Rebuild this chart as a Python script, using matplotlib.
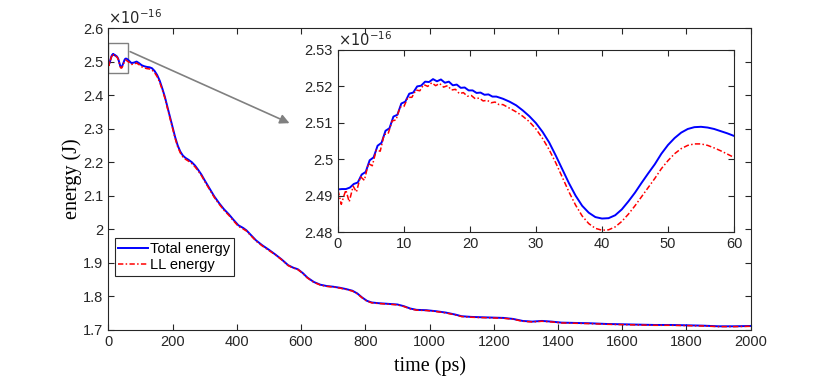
import matplotlib
matplotlib.use('Agg')
import matplotlib.pyplot as plt
from matplotlib.patches import Rectangle
from matplotlib.ticker import FuncFormatter

# inset data, energies in units of 1e-16 J
t_zoom = [0, 0.6, 1.2, 1.8, 2.4, 3.0, 3.6, 4.2, 4.8, 5.4, 6.0, 6.6, 7.2, 7.8, 8.4, 9.0,
          9.6, 10.2, 10.8, 11.4, 12.0, 12.6, 13.2, 13.8, 14.4, 15.0, 15.6, 16.2, 16.8,
          17.4, 18.0, 18.6, 19.2, 19.8, 20.4, 21.0, 21.6, 22.2, 22.8, 23.4, 24.0, 25, 26,
          27, 28, 29, 30, 31, 32, 33, 34, 35, 36, 37, 38, 39, 40, 41, 42, 43, 44, 45, 46,
          47, 48, 49, 50, 51, 52, 53, 54, 55, 56, 57, 58, 59, 60]
total_zoom = [2.4917, 2.4918, 2.4918, 2.4922, 2.4932, 2.4936, 2.4958, 2.4965, 2.4997,
              2.5005, 2.5037, 2.5045, 2.5078, 2.5085, 2.5117, 2.5122, 2.5153, 2.5158,
              2.5180, 2.5183, 2.5200, 2.5202, 2.5213, 2.5212, 2.5220, 2.5214, 2.5219,
              2.5210, 2.5213, 2.5203, 2.5205, 2.5196, 2.5197, 2.5189, 2.5189, 2.5182,
              2.5183, 2.5177, 2.5178, 2.5172, 2.5172, 2.5166, 2.5158, 2.5148, 2.5134,
              2.5118, 2.5099, 2.5075, 2.5046, 2.5010, 2.4972, 2.4934, 2.4900, 2.4872,
              2.4853, 2.4841, 2.4837, 2.4838, 2.4846, 2.4862, 2.4884, 2.4908, 2.4935,
              2.4961, 2.4986, 2.5015, 2.5039, 2.5058, 2.5073, 2.5083, 2.5088, 2.5089,
              2.5087, 2.5083, 2.5077, 2.5071, 2.5064]

t_zoom_ll = [0, 0.5, 1.0, 1.2, 1.7, 2.3, 2.8, 3.4, 4.0, 4.6, 5.2, 5.8, 6.4, 7.0, 7.6, 8.2,
             8.8, 9.4, 10.0, 10.6, 11.2, 11.8, 12.4, 13.0, 13.6, 14.2, 14.8, 15.4, 16.0,
             16.6, 17.2, 17.8, 18.4, 19.0, 19.6, 20.2, 20.8, 21.4, 22.0, 22.6, 23.2, 23.8,
             24.4, 25, 26, 27, 28, 29, 30, 31, 32, 33, 34, 35, 36, 37, 38, 39, 40, 41, 42,
             43, 44, 45, 46, 47, 48, 49, 50, 51, 52, 53, 54, 55, 56, 57, 58, 59, 60]
ll_zoom = [2.4915, 2.4876, 2.4905, 2.4915, 2.4883, 2.4926, 2.4910, 2.4952, 2.4942, 2.4988,
           2.4982, 2.5025, 2.5022, 2.5068, 2.5070, 2.5105, 2.5108, 2.5143, 2.5145, 2.5170,
           2.5170, 2.5190, 2.5188, 2.5205, 2.5200, 2.5210, 2.5202, 2.5208, 2.5198, 2.5202,
           2.5190, 2.5192, 2.5180, 2.5183, 2.5173, 2.5175, 2.5166, 2.5168, 2.5160, 2.5162,
           2.5155, 2.5157, 2.5150, 2.5150, 2.5140, 2.5130, 2.5118, 2.5103, 2.5083, 2.5057,
           2.5026, 2.4990, 2.4950, 2.4910, 2.4874, 2.4844, 2.4823, 2.4810, 2.4805, 2.4806,
           2.4814, 2.4829, 2.4849, 2.4872, 2.4897, 2.4922, 2.4947, 2.4974, 2.4996, 2.5015,
           2.5029, 2.5038, 2.5042, 2.5042, 2.5038, 2.5031, 2.5023, 2.5014, 2.5005]

# rest of the run (t > 60 ps)
t_long = [65, 72, 80, 88, 96, 104, 112, 120, 128, 136, 144, 152, 160, 168, 176, 184, 192,
          200, 208, 216, 224, 232, 240, 250, 260, 270, 280, 290, 300, 315, 330, 345, 360,
          375, 390, 405, 420, 430, 445, 460, 480, 500, 520, 540, 560, 575, 590, 605, 620,
          640, 660, 680, 700, 720, 740, 760, 775, 790, 805, 820, 840, 870, 900, 920, 940,
          960, 990, 1020, 1050, 1080, 1100, 1130, 1160, 1200, 1230, 1260, 1290, 1320, 1350,
          1380, 1410, 1450, 1500, 1550, 1600, 1650, 1700, 1750, 1800, 1850, 1900, 1950, 2000]
total_long = [2.502, 2.4955, 2.497, 2.500, 2.495, 2.489, 2.486, 2.484, 2.483, 2.480, 2.472,
              2.460, 2.443, 2.420, 2.395, 2.365, 2.335, 2.305, 2.275, 2.250, 2.232, 2.220,
              2.213, 2.207, 2.200, 2.190, 2.177, 2.163, 2.146, 2.122, 2.098, 2.078, 2.060,
              2.045, 2.028, 2.012, 2.004, 1.997, 1.982, 1.967, 1.952, 1.939, 1.925, 1.910,
              1.893, 1.886, 1.881, 1.870, 1.856, 1.843, 1.835, 1.831, 1.829, 1.826, 1.822,
              1.817, 1.809, 1.797, 1.787, 1.782, 1.780, 1.778, 1.776, 1.771, 1.764, 1.760,
              1.759, 1.756, 1.752, 1.746, 1.741, 1.739, 1.738, 1.737, 1.736, 1.733, 1.727,
              1.725, 1.727, 1.725, 1.722, 1.721, 1.720, 1.718, 1.717, 1.716, 1.715, 1.715,
              1.714, 1.713, 1.711, 1.711, 1.712]
ll_long = [2.4978, 2.4915, 2.4925, 2.4955, 2.4905, 2.4845, 2.481, 2.479, 2.478, 2.475,
           2.467, 2.455, 2.438, 2.416, 2.391, 2.361, 2.331, 2.301, 2.271, 2.246, 2.228,
           2.216, 2.209, 2.203, 2.196, 2.186, 2.174, 2.160, 2.143, 2.119, 2.095, 2.075,
           2.057, 2.042, 2.025, 2.009, 2.001, 1.995, 1.980, 1.965, 1.950, 1.937, 1.924,
           1.909, 1.892, 1.885, 1.880, 1.869, 1.855, 1.842, 1.834, 1.830, 1.828, 1.825,
           1.821, 1.816, 1.808, 1.796, 1.786, 1.781, 1.779, 1.777, 1.775, 1.770, 1.763,
           1.759, 1.758, 1.755, 1.751, 1.745, 1.740, 1.738, 1.737, 1.736, 1.735, 1.732,
           1.726, 1.724, 1.726, 1.724, 1.721, 1.720, 1.719, 1.717, 1.716, 1.715, 1.714,
           1.714, 1.713, 1.712, 1.710, 1.710, 1.711]

main_xticks = list(range(0, 2001, 200))
main_yticks = [1.7, 1.8, 1.9, 2.0, 2.1, 2.2, 2.3, 2.4, 2.5, 2.6]
zoom_xticks = [0, 10, 20, 30, 40, 50, 60]
zoom_yticks = [2.48, 2.49, 2.50, 2.51, 2.52, 2.53]

plt.rcParams['font.family'] = ['Liberation Sans', 'DejaVu Sans']
axis_grey = '#262626'
ll_dashes = (3.5, 1.5, 1, 1.5)
fmt = FuncFormatter(lambda v, p: '%g' % round(v, 4))


def matlab_style(ax):
    for s in ax.spines.values():
        s.set_color(axis_grey)
        s.set_linewidth(0.8)
    ax.tick_params(direction='in', top=True, right=True, length=4, width=0.8,
                   colors=axis_grey, labelsize=10.5, labelcolor=axis_grey)
    ax.xaxis.set_major_formatter(fmt)
    ax.yaxis.set_major_formatter(fmt)


fig = plt.figure(figsize=(8.3, 3.77), dpi=100)
ax = fig.add_axes([0.1305, 0.1247, 0.774, 0.801])
ax.plot(t_zoom + t_long, total_zoom + total_long, color='blue', lw=1.4, label='Total energy')
ax.plot(t_zoom_ll + t_long, ll_zoom + ll_long, color='red', lw=1.1, dashes=ll_dashes,
        label='LL energy')
ax.set_xlim(0, 2000)
ax.set_ylim(1.7, 2.6)
ax.set_xticks(main_xticks)
ax.set_yticks(main_yticks)
matlab_style(ax)
ax.set_xlabel('time (ps)', family='Liberation Serif', fontsize=14.5, labelpad=5)
ax.set_ylabel('energy (J)', family='Liberation Serif', fontsize=14.5, labelpad=1)
ax.text(0.0, 1.005, r'$\times10^{-16}$', transform=ax.transAxes, fontsize=10.5,
        color=axis_grey, va='bottom', ha='left')
leg = ax.legend(loc='lower left', bbox_to_anchor=(0.01, 0.18), fontsize=10.5,
                fancybox=False, framealpha=1, edgecolor=axis_grey, borderpad=0.25,
                handlelength=2.0, handletextpad=0.15, labelspacing=0.15, borderaxespad=0)
leg.get_frame().set_linewidth(0.8)

# zoom box and arrow
ax.add_patch(Rectangle((0, 2.465), 60, 0.09, fill=False, edgecolor='grey', lw=1))
ax.annotate('', xy=(572, 2.313), xytext=(60, 2.533),
            arrowprops=dict(arrowstyle='-|>', color='grey', lw=1.2, mutation_scale=14))

ins = fig.add_axes([0.4072, 0.3846, 0.4771, 0.4828])
ins.plot(t_zoom, total_zoom, color='blue', lw=1.4)
ins.plot(t_zoom_ll, ll_zoom, color='red', lw=1.1, dashes=ll_dashes)
ins.set_xlim(0, 60)
ins.set_ylim(2.48, 2.53)
ins.set_xticks(zoom_xticks)
ins.set_yticks(zoom_yticks)
matlab_style(ins)
ins.text(0.0, 1.005, r'$\times10^{-16}$', transform=ins.transAxes, fontsize=10.5,
         color=axis_grey, va='bottom', ha='left')

fig.savefig('out.png', dpi=100)
